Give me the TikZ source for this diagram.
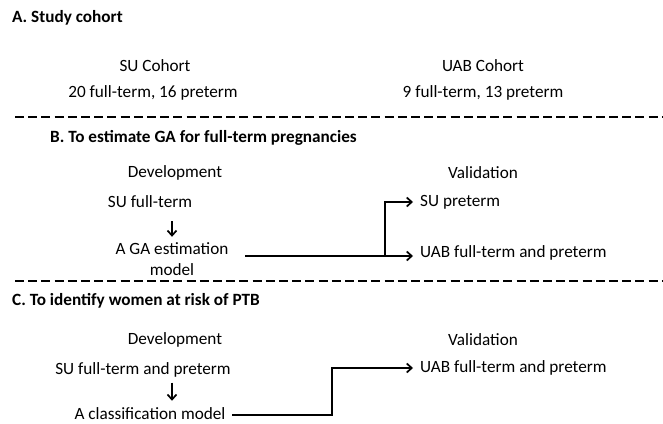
\documentclass[tikz,border=0pt]{standalone}
\usepackage{fontspec}
\setmainfont{Carlito}
\usetikzlibrary{arrows.meta}
\tikzset{
  txt/.style={inner sep=0bp,font=\fontsize{17.2bp}{21bp}\selectfont},
  head/.style={txt,anchor=west,font=\fontsize{17.2bp}{21bp}\selectfont\bfseries},
  sep/.style={line width=2bp,dash pattern=on 9bp off 4.2bp},
  conn/.style={line width=1.7bp,->},
}
\begin{document}
\begin{tikzpicture}[>={Straight Barb[length=5bp,width=9bp]},line join=miter]
\useasboundingbox (0bp,0bp) rectangle (663bp,424bp);
%% A
\node (title_a) at (12bp,406bp) [head] {A. Study cohort};
\node (su_cohort) at (155bp,358bp) [txt] {SU Cohort};
\node (su_count) at (153bp,331bp) [txt] {20 full-term, 16 preterm};
\node (uab_cohort) at (483bp,358bp) [txt] {UAB Cohort};
\node (uab_count) at (483bp,331bp) [txt] {9 full-term, 13 preterm};
\draw [sep] (15bp,307bp) -- (663bp,307bp);
%% B
\node (title_b) at (50bp,286bp) [head] {B. To estimate GA for full-term pregnancies};
\node (dev_b) at (175bp,251bp) [txt] {Development};
\node (val_b) at (483bp,251bp) [txt] {Validation};
\node (su_ft) at (150bp,222bp) [txt] {SU full-term};
\node (ga_model) at (172bp,164.5bp) [txt,align=center] {A GA estimation\\model};
\node (su_pt) at (420bp,222bp) [txt,anchor=west] {SU preterm};
\node (uab_b) at (420bp,171bp) [txt,anchor=west] {UAB full-term and preterm};
\coordinate (ga_out) at (245bp,168bp);
\coordinate (ga_split) at (385bp,168bp);
\draw [conn,shorten <=13bp,shorten >=6bp] (su_ft.south -| ga_model.north) -- (ga_model.north);
\draw [conn,shorten >=7bp] (ga_out) -- (ga_out -| uab_b.west);
\draw [conn,shorten >=7bp] (ga_split) |- (su_pt.west);
\draw [sep] (15bp,143bp) -- (663bp,143bp);
%% C
\node (title_c) at (12bp,123bp) [head] {C. To identify women at risk of PTB};
\node (dev_c) at (175bp,84bp) [txt] {Development};
\node (val_c) at (483bp,84bp) [txt] {Validation};
\node (su_all) at (143bp,54bp) [txt] {SU full-term and preterm};
\node (cls_model) at (150bp,10bp) [txt] {A classification model};
\node (uab_c) at (420bp,56bp) [txt,anchor=west] {UAB full-term and preterm};
\coordinate (cls_out) at (232bp,9bp);
\coordinate (cls_turn) at (332bp,9bp);
\draw [conn,shorten <=5bp,shorten >=7bp] ([xshift=29bp]su_all.south) -- ([xshift=29bp]su_all.south |- cls_model.north);
\draw [conn,shorten >=7bp] (cls_out) -- (cls_turn) |- (uab_c.west);
%
\end{tikzpicture}
\end{document}
